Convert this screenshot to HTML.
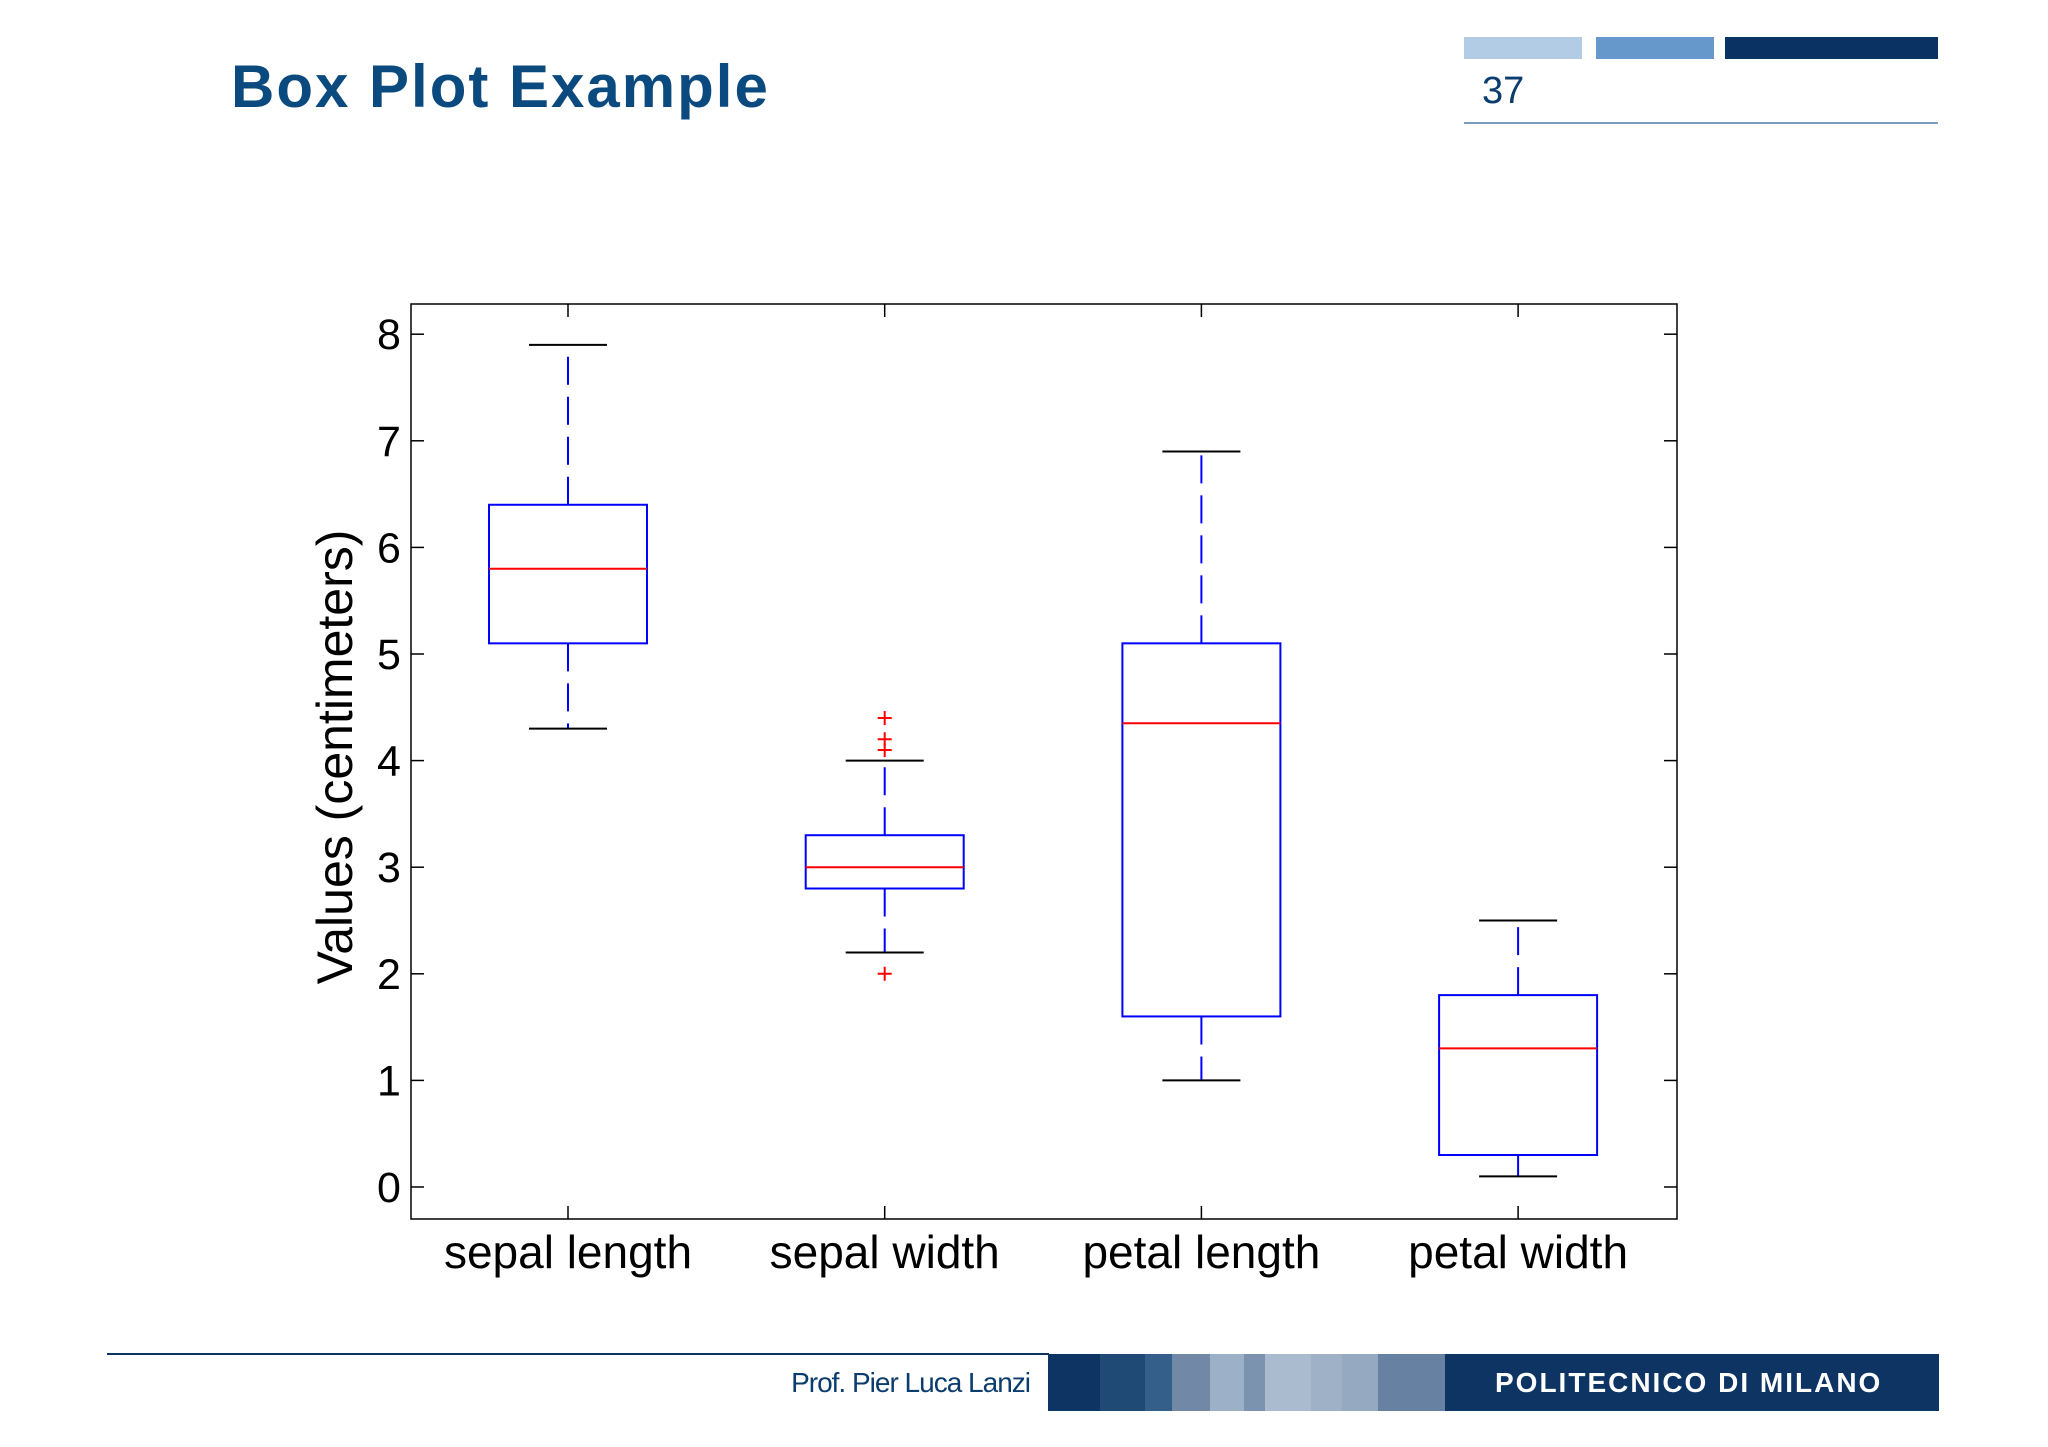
<!DOCTYPE html>
<html><head><meta charset="utf-8"><style>
html,body{margin:0;padding:0;background:#fff;}
body{width:2048px;height:1447px;position:relative;overflow:hidden;font-family:"Liberation Sans",sans-serif;}
.abs{position:absolute;}
</style></head><body>
<div class="abs" style="left:231px;top:52px;font-size:60px;font-weight:bold;color:#0b4a7e;letter-spacing:2px;white-space:nowrap;">Box Plot Example</div>
<div class="abs" style="left:1464px;top:37px;width:118px;height:22px;background:#b3cce6;"></div>
<div class="abs" style="left:1596px;top:37px;width:118px;height:22px;background:#6698cc;"></div>
<div class="abs" style="left:1725px;top:37px;width:213px;height:22px;background:#0a3263;"></div>
<div class="abs" style="left:1482px;top:70px;font-size:38px;color:#0b3c6e;">37</div>
<div class="abs" style="left:1464px;top:122px;width:474px;height:2px;background:#7a9cc0;"></div>

<svg class="abs" style="left:0;top:0" width="2048" height="1447">
<g id="chart"></g>
</svg>

<div class="abs" style="left:107px;top:1353px;width:942px;height:2px;background:#0d3463;"></div>
<div class="abs" style="left:700px;width:330px;text-align:right;top:1367px;font-size:28px;color:#0b3c6e;letter-spacing:-1px;">Prof. Pier Luca Lanzi</div>
<div class="abs" style="left:1048px;top:1354px;width:891px;height:57px;background:#0d3463;">
<div class="abs" style="left:52px;top:0;width:45px;height:57px;background:#1f4a75"></div>
<div class="abs" style="left:97px;top:0;width:27px;height:57px;background:#345f8a"></div>
<div class="abs" style="left:124px;top:0;width:38px;height:57px;background:#7189a6"></div>
<div class="abs" style="left:162px;top:0;width:34px;height:57px;background:#9cb0c8"></div>
<div class="abs" style="left:196px;top:0;width:21px;height:57px;background:#7b93ae"></div>
<div class="abs" style="left:217px;top:0;width:46px;height:57px;background:#aabbd0"></div>
<div class="abs" style="left:263px;top:0;width:31px;height:57px;background:#9fb1c7"></div>
<div class="abs" style="left:294px;top:0;width:36px;height:57px;background:#95a9c1"></div>
<div class="abs" style="left:330px;top:0;width:67px;height:57px;background:#6681a1"></div>
<div class="abs" style="left:447px;top:13px;font-size:28px;font-weight:bold;color:#fff;letter-spacing:2px;white-space:nowrap;">POLITECNICO DI MILANO</div>
</div>

<script>
const categories=["sepal length","sepal width","petal length","petal width"];
const mins=[4.3,2.2,1.0,0.1];
const q1s=[5.1,2.8,1.6,0.3];
const medians=[5.8,3.0,4.35,1.3];
const q3s=[6.4,3.3,5.1,1.8];
const maxs=[7.9,4.0,6.9,2.5];
const outlierCat=[1,1,1,1];
const outlierVal=[4.4,4.2,4.1,2.0];
const yTicks=[0,1,2,3,4,5,6,7,8];

const L=411,R=1677,T=304,B=1219;
const y=v=>1187-v*106.6;
const x=i=>568+i*316.7;
const NS="http://www.w3.org/2000/svg";
const g=document.getElementById('chart');
function mk(tag,attrs,name){const e=document.createElementNS(NS,tag);for(const k in attrs)e.setAttribute(k,attrs[k]);


g.appendChild(e);return e;}
mk('rect',{x:L,y:T,width:R-L,height:B-T,fill:'none',stroke:'#000','stroke-width':1.5},'plot-frame');
yTicks.forEach(t=>{
 mk('line',{x1:L,x2:L+13,y1:y(t),y2:y(t),stroke:'#000','stroke-width':1.5},'y-tick');
 mk('line',{x1:R,x2:R-13,y1:y(t),y2:y(t),stroke:'#000','stroke-width':1.5},'y-tick-right');
 const tx=mk('text',{x:389,y:y(t)+15,'font-size':43,'text-anchor':'middle',fill:'#000','font-family':'Liberation Sans, sans-serif'},'y-tick-label');tx.textContent=t;
});
categories.forEach((c,i)=>{
 const cx=x(i);
 mk('line',{x1:cx,x2:cx,y1:B,y2:B-13,stroke:'#000','stroke-width':1.5},'x-tick');
 mk('line',{x1:cx,x2:cx,y1:T,y2:T+13,stroke:'#000','stroke-width':1.5},'x-tick-top');
 const lb=mk('text',{x:cx,y:1268,'font-size':46,'text-anchor':'middle',fill:'#000','font-family':'Liberation Sans, sans-serif'},'x-category-label');lb.textContent=c;
 mk('line',{x1:cx,x2:cx,y1:y(q3s[i]),y2:y(maxs[i]),stroke:'#0000ff','stroke-width':2,'stroke-dasharray':'28 12'},'upper-whisker');
 mk('line',{x1:cx,x2:cx,y1:y(q1s[i]),y2:y(mins[i]),stroke:'#0000ff','stroke-width':2,'stroke-dasharray':'28 12'},'lower-whisker');
 mk('line',{x1:cx-39,x2:cx+39,y1:y(maxs[i]),y2:y(maxs[i]),stroke:'#000','stroke-width':2},'max-cap');
 mk('line',{x1:cx-39,x2:cx+39,y1:y(mins[i]),y2:y(mins[i]),stroke:'#000','stroke-width':2},'min-cap');
 mk('rect',{x:cx-79,y:y(q3s[i]),width:158,height:y(q1s[i])-y(q3s[i]),fill:'none',stroke:'#0000ff','stroke-width':2},'box-'+i);
 mk('line',{x1:cx-79,x2:cx+79,y1:y(medians[i]),y2:y(medians[i]),stroke:'#ff0000','stroke-width':2},'median-line');
});
outlierVal.forEach((v,k)=>{
 const cx=x(outlierCat[k]),cy=y(v);
 mk('path',{d:`M${cx-7},${cy}H${cx+7}M${cx},${cy-7}V${cy+7}`,stroke:'#ff0000','stroke-width':2},'outlier-marker');
});
const yl=mk('text',{x:0,y:0,'font-size':50,'text-anchor':'middle',fill:'#000','font-family':'Liberation Sans, sans-serif',transform:'translate(352,757) rotate(-90)'},'y-axis-title');
yl.textContent='Values (centimeters)';
</script>
</body></html>
